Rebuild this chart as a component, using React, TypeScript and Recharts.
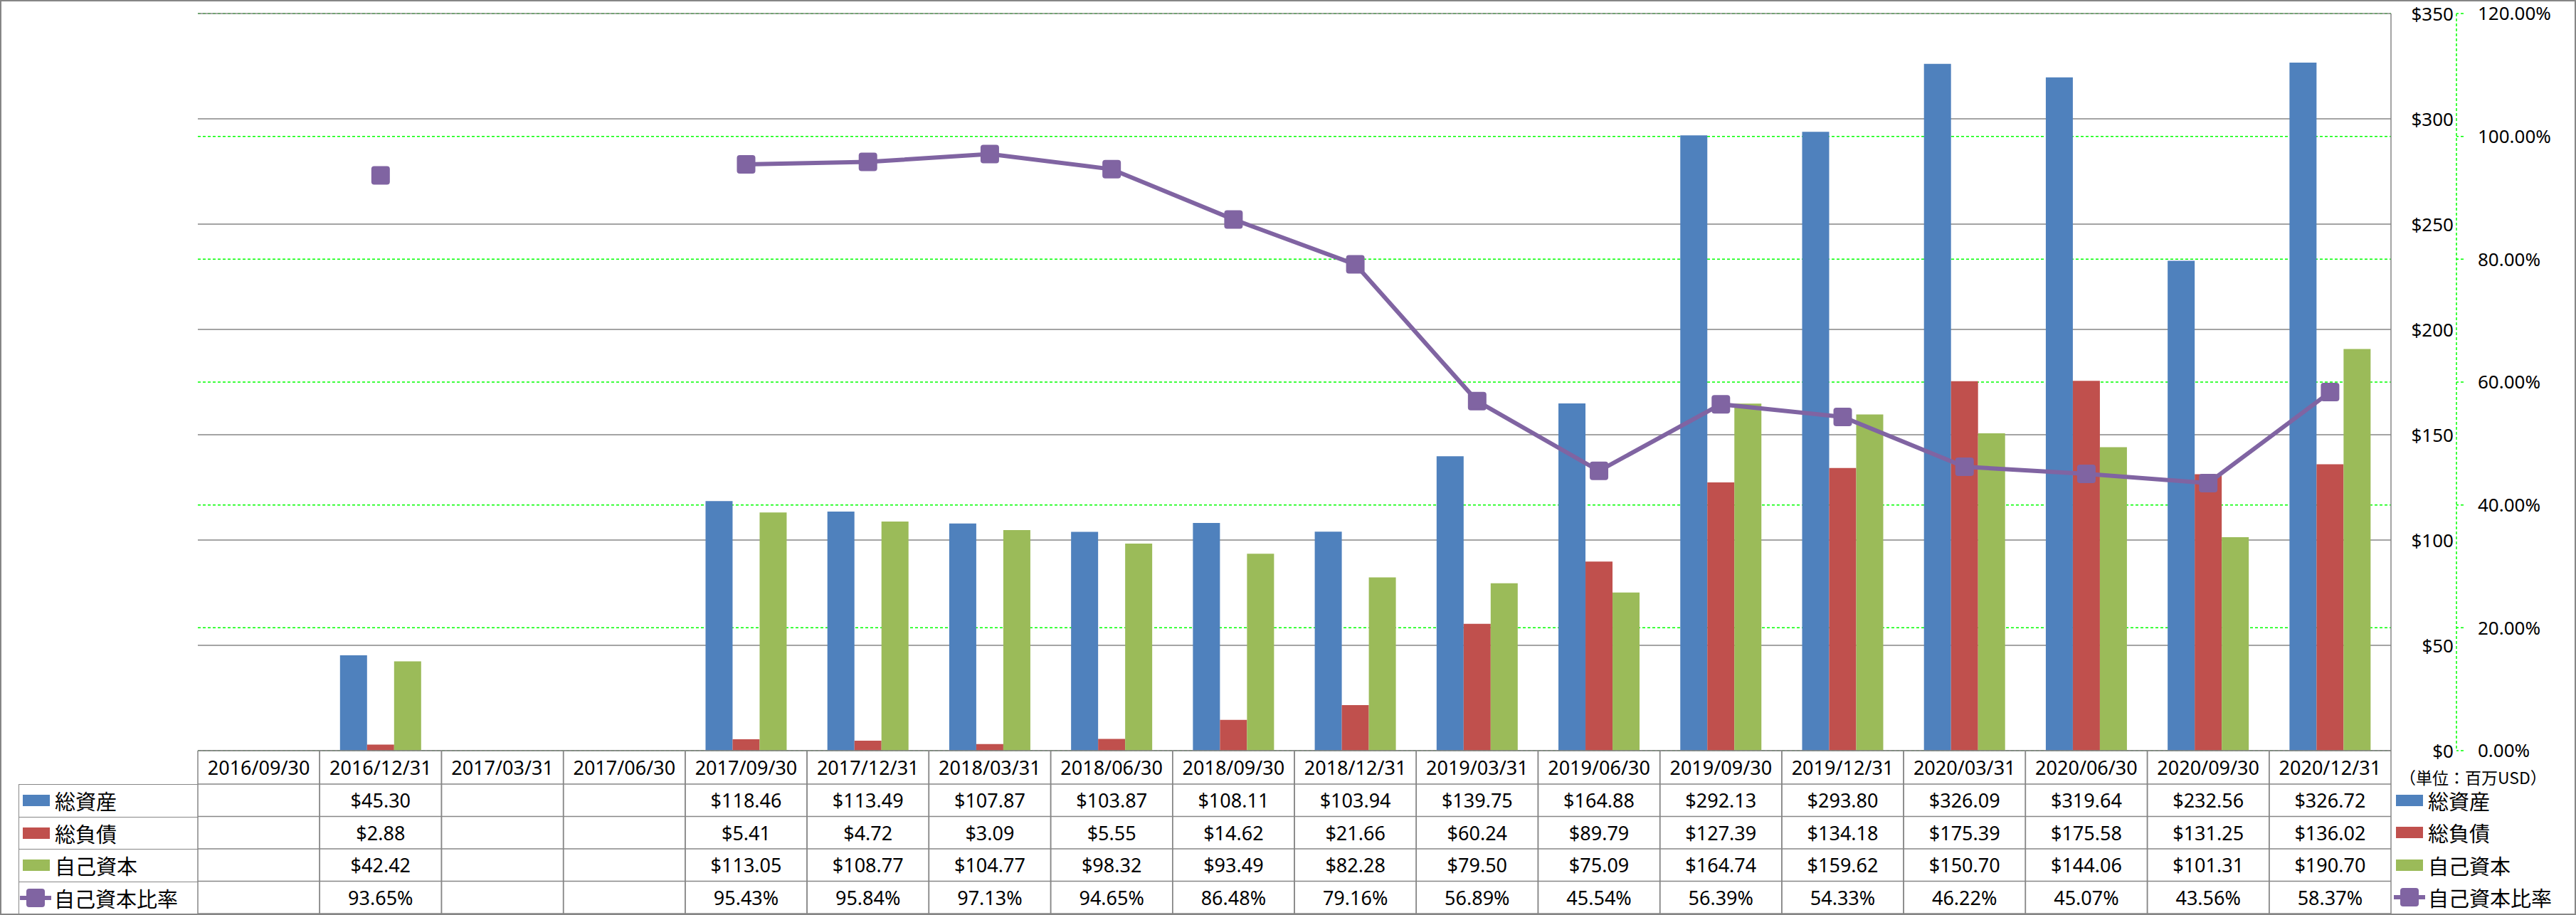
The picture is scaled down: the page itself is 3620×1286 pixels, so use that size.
import React from "react";
import { ComposedChart, Bar, Line, XAxis, YAxis, CartesianGrid } from "recharts";

const periods = [
  "2016/09/30", "2016/12/31", "2017/03/31", "2017/06/30", "2017/09/30", "2017/12/31",
  "2018/03/31", "2018/06/30", "2018/09/30", "2018/12/31", "2019/03/31", "2019/06/30",
  "2019/09/30", "2019/12/31", "2020/03/31", "2020/06/30", "2020/09/30", "2020/12/31",
];
const totalAssets = [
  null, 45.3, null, null, 118.46, 113.49, 107.87, 103.87, 108.11, 103.94, 139.75, 164.88,
  292.13, 293.8, 326.09, 319.64, 232.56, 326.72,
];
const totalLiabilities = [
  null, 2.88, null, null, 5.41, 4.72, 3.09, 5.55, 14.62, 21.66, 60.24, 89.79,
  127.39, 134.18, 175.39, 175.58, 131.25, 136.02,
];
const equity = [
  null, 42.42, null, null, 113.05, 108.77, 104.77, 98.32, 93.49, 82.28, 79.5, 75.09,
  164.74, 159.62, 150.7, 144.06, 101.31, 190.7,
];
const equityRatio = [
  null, 93.65, null, null, 95.43, 95.84, 97.13, 94.65, 86.48, 79.16, 56.89, 45.54,
  56.39, 54.33, 46.22, 45.07, 43.56, 58.37,
];
const usdTicks = [0, 50, 100, 150, 200, 250, 300, 350];
const pctTicks = [0, 20, 40, 60, 80, 100, 120];
const unitLabel = "（単位：百万USD）";

const fmtUsd = (v: number | null) => (v == null ? "" : `$${v.toFixed(2)}`);
const fmtPct = (v: number | null) => (v == null ? "" : `${v.toFixed(2)}%`);

const series = [
  { key: "assets", name: "総資産", color: "#4F81BD", values: totalAssets, fmt: fmtUsd },
  { key: "liabilities", name: "総負債", color: "#C0504D", values: totalLiabilities, fmt: fmtUsd },
  { key: "equity", name: "自己資本", color: "#9BBB59", values: equity, fmt: fmtUsd },
  { key: "ratio", name: "自己資本比率", color: "#8064A2", values: equityRatio, fmt: fmtPct },
];

const data = periods.map((period, i) => ({
  period,
  assets: totalAssets[i],
  liabilities: totalLiabilities[i],
  equity: equity[i],
  ratio: equityRatio[i],
}));

// layout
const W = 3620;
const H = 1286;
const PLOT_LEFT = 278;
const PLOT_TOP = 19;
const TABLE_TOP = 1055;
const USD_AXIS_W = 92;
const PCT_AXIS_W = 168;
const HEADER_H = 47;
const ROW_H = 45.5;
const GRID = "#868686";
const FONT = "'Noto Sans', 'Noto Sans CJK JP', sans-serif";
const CJK = "'Noto Sans CJK JP', 'Noto Sans', sans-serif";
const BAND = (W - PLOT_LEFT - USD_AXIS_W - PCT_AXIS_W) / periods.length;

function TableColumn(props: any) {
  const { x, y, payload } = props;
  const half = payload && payload.offset ? payload.offset : BAND / 2;
  const i = periods.indexOf(payload.value);
  const bottom = y + HEADER_H + ROW_H * series.length;
  const lines = [y, ...series.map((_, r) => y + HEADER_H + ROW_H * r), bottom];
  return (
    <g>
      {lines.map((ly, k) => (
        <line key={"h" + k} x1={x - half} x2={x + half} y1={ly} y2={ly} stroke={GRID} strokeWidth={1.5} />
      ))}
      <line x1={x - half} x2={x - half} y1={y} y2={bottom} stroke={GRID} strokeWidth={1.5} />
      <line x1={x + half} x2={x + half} y1={y} y2={bottom} stroke={GRID} strokeWidth={1.5} />
      <text x={x} y={y + HEADER_H / 2} textAnchor="middle" dominantBaseline="central" fontSize={27} fontFamily={FONT} fill="#000">
        {payload.value}
      </text>
      {series.map((s, r) => (
        <text
          key={s.key}
          x={x}
          y={y + HEADER_H + ROW_H * r + ROW_H / 2}
          textAnchor="middle"
          dominantBaseline="central"
          fontSize={27}
          fontFamily={FONT}
          fill="#000"
        >
          {s.fmt(s.values[i])}
        </text>
      ))}
    </g>
  );
}

function UsdTick(props: any) {
  const { x, y, payload } = props;
  return (
    <text x={x} y={y} textAnchor="end" dominantBaseline="central" fontSize={26} fontFamily={FONT} fill="#000">
      {`$${payload.value}`}
    </text>
  );
}

function SquareDot(props: any) {
  const { cx, cy, value, index } = props;
  if (value == null || cx == null || cy == null) return <g key={"d" + index} />;
  return <rect key={"d" + index} x={cx - 13} y={cy - 13} width={26} height={26} rx={4} fill="#8064A2" />;
}

function Swatch({ color, line }: { color: string; line?: boolean }) {
  if (line) {
    return (
      <svg width={44} height={26} style={{ flex: "none" }}>
        <line x1={0} x2={44} y1={13} y2={13} stroke={color} strokeWidth={6} />
        <rect x={9} y={0} width={26} height={26} rx={4} fill={color} />
      </svg>
    );
  }
  return <div style={{ width: 38, height: 16, background: color, flex: "none", margin: "0 3px" }} />;
}

export default function App() {
  return (
    <div style={{ position: "absolute", left: 0, top: 0, width: W, height: H, background: "#fff" }}>
      <ComposedChart
        width={W}
        height={H}
        data={data}
        margin={{ top: PLOT_TOP, left: PLOT_LEFT, right: 0, bottom: 0 }}
        barCategoryGap="16.7%"
        barGap={0}
      >
        <CartesianGrid yAxisId="ratio" vertical={false} stroke="#00FF00" strokeDasharray="4 3" strokeWidth={1.5} />
        <CartesianGrid yAxisId="amount" vertical={false} stroke={GRID} strokeWidth={1.5} />
        <XAxis
          dataKey="period"
          height={H - TABLE_TOP}
          axisLine={false}
          tickLine={false}
          tickSize={0}
          tickMargin={0}
          interval={0}
          tick={<TableColumn />}
        />
        <YAxis
          yAxisId="amount"
          orientation="right"
          width={USD_AXIS_W}
          domain={[0, 350]}
          ticks={usdTicks}
          interval={0}
          axisLine={{ stroke: GRID, strokeWidth: 1.5 }}
          tickLine={false}
          tickSize={0}
          tickMargin={88}
          tick={<UsdTick />}
        />
        <YAxis
          yAxisId="ratio"
          orientation="right"
          width={PCT_AXIS_W}
          domain={[0, 120]}
          ticks={pctTicks}
          interval={0}
          axisLine={{ stroke: "#00FF00", strokeDasharray: "4 3", strokeWidth: 1.5 }}
          tickLine={{ stroke: "#00FF00", strokeDasharray: "4 3", strokeWidth: 1.5 }}
          tickSize={10}
          tickMargin={20}
          tickFormatter={(v: number) => `${v.toFixed(2)}%`}
          tick={{ fontSize: 26, fontFamily: FONT, fill: "#000" }}
        />
        {series.slice(0, 3).map((s) => (
          <Bar key={s.key} yAxisId="amount" dataKey={s.key} name={s.name} fill={s.color} isAnimationActive={false} />
        ))}
        <Line
          yAxisId="ratio"
          dataKey="ratio"
          name="自己資本比率"
          stroke="#8064A2"
          strokeWidth={6}
          dot={(p: any) => <SquareDot {...p} />}
          activeDot={false}
          connectNulls={false}
          isAnimationActive={false}
        />
      </ComposedChart>

      {/* left label column of the data table */}
      <div style={{ position: "absolute", left: 26, top: TABLE_TOP + HEADER_H, width: PLOT_LEFT - 26 }}>
        {series.map((s, r) => (
          <div
            key={s.key}
            style={{
              height: ROW_H,
              boxSizing: "border-box",
              borderTop: `1.5px solid ${GRID}`,
              borderLeft: `1.5px solid ${GRID}`,
              display: "flex",
              alignItems: "center",
              paddingLeft: r === 3 ? 1 : 2,
              fontFamily: CJK,
              fontSize: 29,
              color: "#000",
              gap: 4,
              whiteSpace: "nowrap",
            }}
          >
            <Swatch color={s.color} line={r === 3} />
            <span>{s.name}</span>
          </div>
        ))}
      </div>

      {/* legend on the right */}
      <div style={{ position: "absolute", left: PLOT_LEFT + BAND * periods.length + 4, top: TABLE_TOP + 22 }}>
        <div style={{ fontFamily: CJK, fontSize: 23, height: 30, lineHeight: "30px", paddingLeft: 8, whiteSpace: "nowrap", color: "#000" }}>
          {unitLabel}
        </div>
      </div>
      <div style={{ position: "absolute", left: PLOT_LEFT + BAND * periods.length + 4, top: TABLE_TOP + HEADER_H }}>
        {series.map((s, r) => (
          <div
            key={s.key}
            style={{
              height: ROW_H,
              display: "flex",
              alignItems: "center",
              fontFamily: CJK,
              fontSize: 29,
              color: "#000",
              gap: 4,
              whiteSpace: "nowrap",
            }}
          >
            <Swatch color={s.color} line={r === 3} />
            <span>{s.name}</span>
          </div>
        ))}
      </div>

      {/* outer frame */}
      <div
        style={{
          position: "absolute",
          left: 0,
          top: 0,
          width: W,
          height: H,
          boxSizing: "border-box",
          border: `2.5px solid ${GRID}`,
          pointerEvents: "none",
        }}
      />
    </div>
  );
}
